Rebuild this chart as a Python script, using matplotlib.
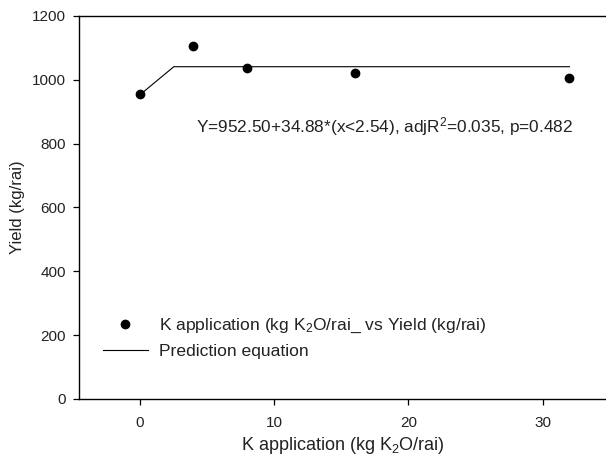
import numpy as np
import matplotlib
matplotlib.use("Agg")
import matplotlib.pyplot as plt

plt.rcParams["font.family"] = ["Liberation Sans", "DejaVu Sans"]
plt.rcParams["mathtext.fontset"] = "custom"
plt.rcParams["mathtext.rm"] = "Liberation Sans"
plt.rcParams["mathtext.it"] = "Liberation Sans"

# ------------------------------------------------------------------
# DATA
# ------------------------------------------------------------------
k_rate = [0, 4, 8, 16, 32]                 # kg K2O/rai
yield_obs = [955, 1106, 1036, 1020, 1007]  # kg/rai

# linear-plateau fit: Y = a + b*min(x, c)
fit_a = 952.50
fit_b = 34.88
fit_c = 2.54
fit_x = [0, fit_c, 32]

x_ticks = [0, 10, 20, 30]
y_ticks = [0, 200, 400, 600, 800, 1000, 1200]

fit_y = [fit_a + fit_b * min(x, fit_c) for x in fit_x]

# ------------------------------------------------------------------
# PLOT
# ------------------------------------------------------------------
fig = plt.figure(figsize=(6.06, 4.57), dpi=100)
ax = fig.add_axes([79 / 606, 58 / 457, 527 / 606, 383 / 457])

ax.plot(k_rate, yield_obs, "o", color="black", markersize=6,
        label="K application (kg K$_2$O/rai_ vs Yield (kg/rai)")
ax.plot(fit_x, fit_y, "-", color="black", linewidth=0.8,
        label="Prediction equation")

ax.text(4.2, 855, "Y=952.50+34.88*(x<2.54), adjR$^2$=0.035, p=0.482",
        fontsize=12.4, color="#222222", ha="left", va="center")

ax.set_xlim(-4.52, 34.72)
ax.set_ylim(0, 1200)
ax.set_xticks(x_ticks)
ax.set_yticks(y_ticks)

ax.spines["right"].set_visible(False)
for side in ("top", "left", "bottom"):
    ax.spines[side].set_linewidth(1.0)
ax.tick_params(direction="out", length=4.5, width=0.9, labelsize=11,
               labelcolor="#222222", top=False, right=False, pad=5)
ax.tick_params(axis="x", pad=8)

ax.set_xlabel("K application (kg K$_2$O/rai)", fontsize=13, color="#222222",
              labelpad=3)
ax.set_ylabel("Yield (kg/rai)", fontsize=12, color="#222222", labelpad=5)

ax.legend(loc="upper left", bbox_to_anchor=(0.045, 0.215), frameon=False,
          fontsize=12.6, borderpad=0, borderaxespad=0, handlelength=2.6,
          handletextpad=0.6, labelspacing=0.5, numpoints=1,
          labelcolor="#222222")

fig.savefig("out.png", dpi=100)
